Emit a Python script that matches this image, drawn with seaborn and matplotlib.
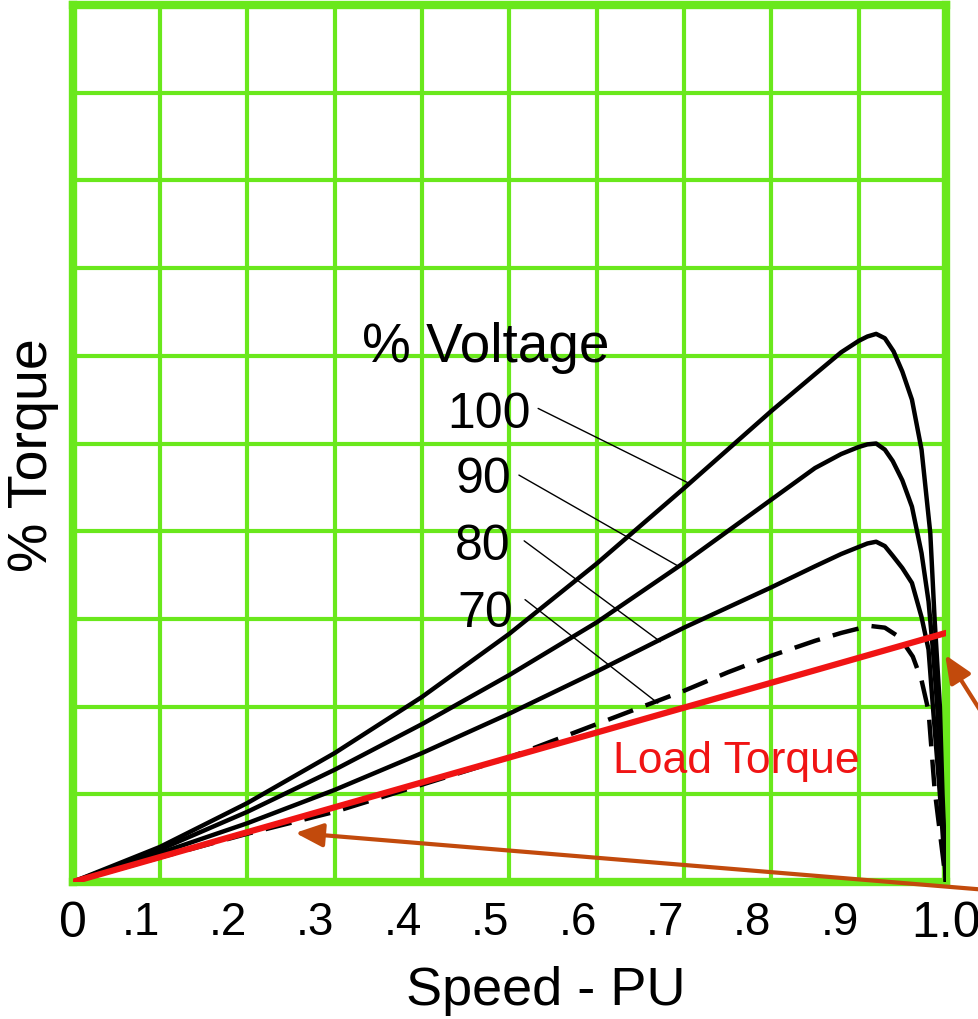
import numpy as np
import pandas as pd
import matplotlib
matplotlib.use("Agg")
import matplotlib.pyplot as plt
import seaborn as sns

# ---------------- data ----------------
speed_100 = [0, .1, .2, .3, .4, .5, .6, .7, .8, .85, .88, .9, .91, .92, .93, .94, .95, .961, .972, .982, .987, .993, .996, 1.0]
torque_100 = [0, .40, .90, 1.47, 2.11, 2.83, 3.63, 4.49, 5.37, 5.79, 6.04, 6.17, 6.22, 6.25, 6.2, 6.05, 5.82, 5.5, 4.93, 3.98, 2.99, 2.0, 1.0, 0]

speed_90 = [0, .1, .2, .3, .4, .5, .6, .7, .8, .85, .88, .9, .91, .92, .93, .939, .95, .961, .972, .98, .985, .99, .995, 1.0]
torque_90 = [0, .37, .80, 1.28, 1.80, 2.36, 2.96, 3.64, 4.36, 4.72, 4.88, 4.96, 4.99, 5.0, 4.93, 4.8, 4.58, 4.28, 3.75, 3.2, 2.65, 2.0, 1.0, 0]

speed_80 = [0, .1, .2, .3, .4, .5, .6, .7, .8, .85, .88, .9, .91, .92, .93, .939, .95, .961, .972, .98, .985, .993, 1.0]
torque_80 = [0, .33, .67, 1.05, 1.47, 1.92, 2.40, 2.90, 3.36, 3.6, 3.74, 3.82, 3.86, 3.88, 3.83, 3.72, 3.58, 3.41, 3.02, 2.65, 2.0, 1.0, 0]

speed_70 = [0, .1, .2, .3, .4, .5, .55, .6, .65, .7, .75, .8, .85, .88, .9, .913, .93, .947, .962, .972, .98, .987, 1.0]
torque_70 = [0, .28, .55, .80, 1.11, 1.42, 1.61, 1.8, 1.99, 2.18, 2.39, 2.58, 2.75, 2.84, 2.89, 2.92, 2.9, 2.79, 2.57, 2.3, 1.95, 1.05, 0]

load_speed = [0, 1.0]
load_torque = [0, 2.84]

voltages = [100, 90, 80, 70]
voltage_labels = ["100", "90", "80", "70"]
label_pos = [(.429, 5.18), (.438, 4.44), (.438, 3.67), (.440, 2.91)]
leader_start = [(.533, 5.40), (.511, 4.64), (.517, 3.89), (.518, 3.22)]
leader_end = [(.705, 4.55), (.692, 3.61), (.673, 2.74), (.670, 2.04)]

x_ticks = [0, .1, .2, .3, .4, .5, .6, .7, .8, .9, 1.0]
x_tick_labels = ["0", ".1", ".2", ".3", ".4", ".5", ".6", ".7", ".8", ".9", "1.0"]
y_ticks = list(range(0, 11))

# ---------------- build long-form table ----------------
frames = []
for v, sx, sy in zip(voltages, [speed_100, speed_90, speed_80, speed_70],
                     [torque_100, torque_90, torque_80, torque_70]):
    frames.append(pd.DataFrame({"speed": sx, "torque": sy, "voltage": v}))
df = pd.concat(frames, ignore_index=True)
load_df = pd.DataFrame({"speed": load_speed, "torque": load_torque})

# ---------------- style ----------------
sns.set_theme(style="white")
plt.rcParams["font.family"] = ["Liberation Sans", "DejaVu Sans"]

GREEN = "#6ae81c"
RED = "#f01414"
ARROW = "#c24a0c"

fig = plt.figure(figsize=(9.79, 10.19), dpi=100)
fig.patch.set_facecolor("white")
ax = fig.add_axes([72.6 / 979, 1 - 882 / 1019, 873.4 / 979, 877 / 1019])
ax.set_facecolor("white")

sns.lineplot(data=df, x="speed", y="torque", hue="voltage", style="voltage",
             palette={100: "black", 90: "black", 80: "black", 70: "black"},
             dashes={100: "", 90: "", 80: "", 70: (6, 3)},
             estimator=None, sort=False, legend=False, linewidth=3.2,
             ax=ax, zorder=3)

sns.lineplot(data=load_df, x="speed", y="torque", color=RED, linewidth=4.5,
             ax=ax, zorder=4)

# leader lines and voltage labels
for lab, (lx, ly), (sx, sy), (ex, ey) in zip(voltage_labels, label_pos, leader_start, leader_end):
    ax.text(lx, ly, lab, fontsize=36, ha="left", va="baseline", color="black", zorder=5)
    ax.plot([sx, ex], [sy, ey], color="black", lw=1.0, zorder=5)

ax.text(.331, 5.93, "% Voltage", fontsize=39.5, ha="left", va="baseline", color="black", zorder=5)
ax.text(.619, 1.24, "Load Torque", fontsize=32, ha="left", va="baseline", color=RED, zorder=5)

# arrows from outside the figure
ax.annotate("", xy=(0.999, 2.59), xycoords="data",
            xytext=(1.021, 1 - 741 / 1019), textcoords="figure fraction",
            arrowprops=dict(arrowstyle="-|>,head_length=1.4,head_width=0.6",
                            color=ARROW, lw=3, shrinkA=0, shrinkB=0),
            annotation_clip=False, zorder=6)
ax.annotate("", xy=(0.255, 0.56), xycoords="data",
            xytext=(1.021, 1 - 891 / 1019), textcoords="figure fraction",
            arrowprops=dict(arrowstyle="-|>,head_length=1.4,head_width=0.6",
                            color=ARROW, lw=3, shrinkA=0, shrinkB=0),
            annotation_clip=False, zorder=6)

# axes, grid
ax.set_xlim(0, 1.0)
ax.set_ylim(0, 10)
ax.set_xticks(x_ticks)
ax.set_xticklabels(x_tick_labels)
ax.set_yticks(y_ticks)
ax.set_yticklabels([])
ax.grid(True, color=GREEN, lw=3, zorder=0)
ax.set_axisbelow(True)
ax.tick_params(axis="both", length=0)
ax.tick_params(axis="x", pad=14)
for lbl in ax.get_xticklabels():
    txt = lbl.get_text()
    lbl.set_fontsize(36)
    lbl.set_color("black")
    if txt.startswith("."):
        lbl.set_ha("right")
        lbl.set_fontsize(33)
for s in ax.spines.values():
    s.set_color(GREEN)
    s.set_linewidth(6)
    s.set_visible(True)
    s.set_zorder(2.5)

ax.set_xlabel("Speed - PU", fontsize=39, color="black")
ax.xaxis.set_label_coords(0.542, -0.096)
ax.set_ylabel("% Torque", fontsize=40, color="black")
ax.yaxis.set_label_coords(-0.015, 0.487)

fig.savefig("out.png", dpi=100, facecolor="white")
